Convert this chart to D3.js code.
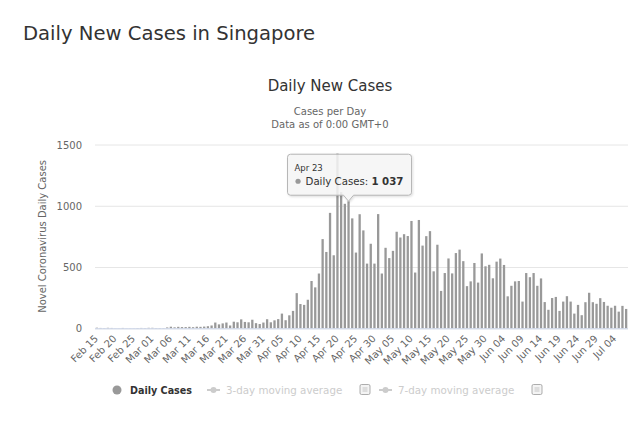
<!DOCTYPE html>
<html>
<head>
<meta charset="utf-8">
<script src="https://cdn.jsdelivr.net/npm/d3@7"></script>
<style>
  body { margin: 0; background: #fff; }
  svg text { font-family: "DejaVu Sans", sans-serif; }
</style>
</head>
<body>
<div id="chart"></div>
<script>
// daily new cases, Singapore (Feb 15 - Jul 07)
var firstDay = new Date(2020, 1, 15);
var lastDay = new Date(2020, 6, 8);
var cases = [
  5, 3, 2, 4, 3, 1, 1, 3, 1, 1, 1, 2, 3, 2, 4,
  4, 2, 2, 2, 7, 13, 8, 12, 10, 10, 12, 9, 13, 12, 14, 17, 23, 47, 32, 40, 47, 23, 54, 49, 73, 52, 49, 70, 42, 35, 47,
  74, 49, 65, 75, 120, 66, 106, 142, 287, 198, 191, 233, 386, 334, 447, 728, 623, 942, 596, 1426, 1111, 1016, 1037, 897, 618, 931, 799, 528, 690, 528,
  932, 447, 657, 573, 632, 788, 741, 768, 753, 876, 455, 884, 675, 752, 793, 465, 682, 305, 451, 570, 448, 614, 642, 548, 344, 383, 533, 373, 611, 506, 518,
  408, 544, 569, 517, 261, 347, 383, 386, 218, 451, 417, 451, 347, 407, 214, 151, 247, 256, 142, 218, 262, 218, 120, 191, 107, 213, 290, 213, 200, 246,
  215, 184, 168, 184, 136, 183, 158
];
var xTickLabels = ["Feb 15", "Feb 20", "Feb 25", "Mar 01", "Mar 06", "Mar 11", "Mar 16", "Mar 21", "Mar 26", "Mar 31",
  "Apr 05", "Apr 10", "Apr 15", "Apr 20", "Apr 25", "Apr 30", "May 05", "May 10", "May 15", "May 20", "May 25", "May 30",
  "Jun 04", "Jun 09", "Jun 14", "Jun 19", "Jun 24", "Jun 29", "Jul 04"];
var yTicks = [0, 500, 1000, 1500];
var legendItems = ["Daily Cases", "3-day moving average", "7-day moving average"];
var hoverDay = "Apr 23";

var fmt = d3.timeFormat("%b %d");
var days = d3.timeDay.range(firstDay, lastDay).map(fmt);

var width = 640, height = 426;
var plot = {left: 95, right: 628, top: 144.5, bottom: 328.3};

var svg = d3.select("#chart").append("svg")
  .attr("width", width)
  .attr("height", height);

svg.append("rect").attr("width", width).attr("height", height).style("fill", "#fff");

var x = d3.scaleBand()
  .domain(days)
  .range([plot.left, plot.right])
  .paddingInner(0.38)
  .paddingOuter(0.19);

var y = d3.scaleLinear()
  .domain([0, 1500])
  .range([plot.bottom, plot.top]);

// titles
svg.append("text")
  .attr("x", 23).attr("y", 39.5)
  .style("font-size", "19.6px").style("fill", "#333")
  .text("Daily New Cases in Singapore");

svg.append("text")
  .attr("x", 330).attr("y", 90.5)
  .attr("text-anchor", "middle")
  .style("font-size", "15px").style("fill", "#333")
  .text("Daily New Cases");

svg.append("text")
  .attr("x", 330).attr("y", 115)
  .attr("text-anchor", "middle")
  .style("font-size", "10px").style("fill", "#666")
  .text("Cases per Day");
svg.append("text")
  .attr("x", 330).attr("y", 127.5)
  .attr("text-anchor", "middle")
  .style("font-size", "10px").style("fill", "#666")
  .text("Data as of 0:00 GMT+0");

// y axis + grid
var yAxis = svg.append("g")
  .attr("transform", "translate(" + plot.left + ",0)")
  .call(d3.axisLeft(y).tickValues(yTicks).tickFormat(d3.format("d"))
    .tickSize(-(plot.right - plot.left)).tickPadding(13));
yAxis.select(".domain").remove();
yAxis.selectAll(".tick line").style("stroke", "#e6e6e6");
yAxis.selectAll(".tick text")
  .style("font-size", "10px").style("fill", "#666")
  .attr("dy", "0.35em");

svg.append("text")
  .attr("transform", "translate(46," + ((plot.top + plot.bottom) / 2) + ") rotate(-90)")
  .attr("text-anchor", "middle")
  .style("font-size", "10px").style("fill", "#666")
  .text("Novel Coronavirus Daily Cases");

// bars
svg.append("g").selectAll("rect")
  .data(cases)
  .join("rect")
  .attr("x", function(d, i) { return x(days[i]); })
  .attr("y", function(d) { return y(d); })
  .attr("width", x.bandwidth())
  .attr("height", function(d) { return y(0) - y(d); })
  .style("fill", "#999");

// x axis
var xAxis = svg.append("g")
  .attr("transform", "translate(0," + plot.bottom + ")")
  .call(d3.axisBottom(x).tickValues(xTickLabels).tickSize(0));
xAxis.select(".domain")
  .attr("d", "M" + plot.left + ",0.5H" + plot.right)
  .style("stroke", "#ccd6eb");
xAxis.selectAll(".tick text")
  .attr("y", 0).attr("dy", 0)
  .attr("transform", "translate(2,11) rotate(-45)")
  .attr("text-anchor", "end")
  .style("font-size", "10px").style("fill", "#666");

// legend
var lg = svg.append("g").attr("transform", "translate(0,390)");
lg.append("circle").attr("cx", 117).attr("cy", 0).attr("r", 4.5).style("fill", "#999");
lg.append("text").attr("x", 130).attr("y", 3.6)
  .style("font-size", "9.6px").style("font-weight", "bold").style("fill", "#333")
  .text(legendItems[0]);

[[207, legendItems[1], 360], [379, legendItems[2], 532]].forEach(function(it) {
  lg.append("line").attr("x1", it[0]).attr("x2", it[0] + 13)
    .attr("y1", 0).attr("y2", 0).style("stroke", "#ccc").style("stroke-width", 2);
  lg.append("circle").attr("cx", it[0] + 6.5).attr("cy", 0).attr("r", 3).style("fill", "#ccc");
  lg.append("text").attr("x", it[0] + 19).attr("y", 3.6)
    .style("font-size", "10.3px").style("fill", "#ccc")
    .text(it[1]);
  lg.append("rect").attr("x", it[2]).attr("y", -5.5).attr("width", 10).attr("height", 10)
    .attr("rx", 1.5)
    .style("fill", "#f4f4f4").style("stroke", "#999").style("stroke-width", 0.8);
  lg.append("rect").attr("x", it[2] + 2.5).attr("y", -3).attr("width", 5).attr("height", 5)
    .style("fill", "#ddd");
});

// tooltip for the hovered day
var hi = days.indexOf(hoverDay);
var tipX = x(hoverDay) + x.bandwidth() / 2;
var tipY = y(cases[hi]);
var boxW = 124, boxH = 41;
var bx = tipX - boxW / 2 + 1, by = tipY - 6 - boxH;

var defs = svg.append("defs");
var f = defs.append("filter").attr("id", "shadow").attr("x", "-10%").attr("y", "-10%")
  .attr("width", "130%").attr("height", "140%");
f.append("feDropShadow").attr("dx", 1).attr("dy", 1).attr("stdDeviation", 1.2)
  .attr("flood-color", "#000").attr("flood-opacity", 0.15);

var tip = svg.append("g");
var p = d3.path();
p.moveTo(bx + 3, by);
p.lineTo(bx + boxW - 3, by);
p.quadraticCurveTo(bx + boxW, by, bx + boxW, by + 3);
p.lineTo(bx + boxW, by + boxH - 3);
p.quadraticCurveTo(bx + boxW, by + boxH, bx + boxW - 3, by + boxH);
p.lineTo(tipX + 5, by + boxH);
p.lineTo(tipX, tipY);
p.lineTo(tipX - 5, by + boxH);
p.lineTo(bx + 3, by + boxH);
p.quadraticCurveTo(bx, by + boxH, bx, by + boxH - 3);
p.lineTo(bx, by + 3);
p.quadraticCurveTo(bx, by, bx + 3, by);
p.closePath();
tip.append("path").attr("d", p.toString())
  .attr("filter", "url(#shadow)")
  .style("fill", "rgba(247,247,247,0.85)")
  .style("stroke", "#b5b5b5").style("stroke-width", 1);

tip.append("text").attr("x", bx + 7).attr("y", by + 17)
  .style("font-size", "8.5px").style("fill", "#333")
  .text(hoverDay);
tip.append("circle").attr("cx", bx + 10.5).attr("cy", by + 27).attr("r", 2.6).style("fill", "#999");
var t2 = tip.append("text").attr("x", bx + 18).attr("y", by + 30.5)
  .style("font-size", "10.2px").style("fill", "#333");
t2.append("tspan").text("Daily Cases: ");
t2.append("tspan").style("font-weight", "bold")
  .text(d3.format(",")(cases[hi]).replace(",", " "));
</script>
</body>
</html>
